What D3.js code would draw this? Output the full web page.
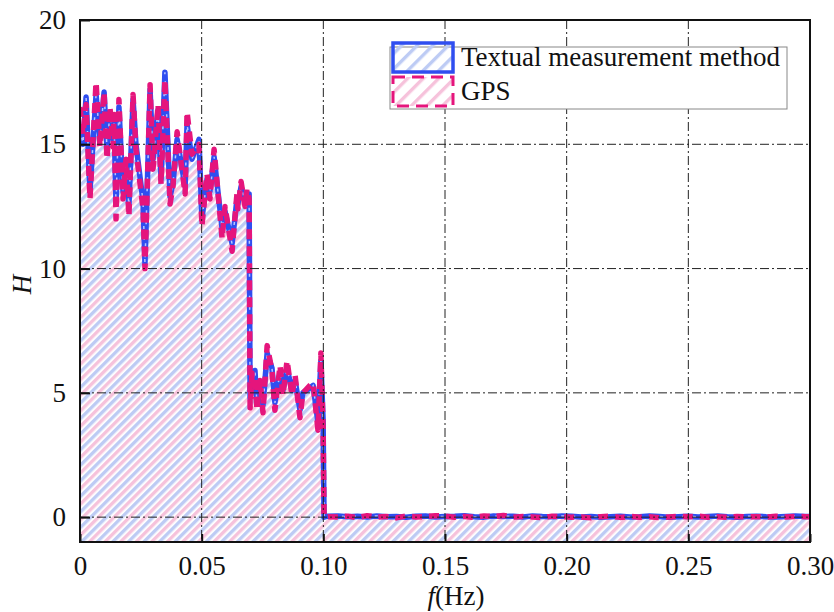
<!DOCTYPE html>
<meta charset="utf-8">
<style>
body { margin: 0; background: #fff; }
text { font-family: "Liberation Serif", "DejaVu Serif", serif; fill: #111; }
.grid line { stroke: #222; stroke-width: 1; stroke-dasharray: 9,3,2,3; }
</style>
<body>
<svg width="834" height="612"></svg>
<script src="https://d3js.org/d3.v7.min.js"></script>
<script>
// frequencies (Hz) below 0.1 and the spectrum values
var freqLow = [0, 0.0012, 0.0025, 0.0041, 0.0066, 0.0082, 0.0099, 0.0111, 0.0123, 0.0136,
  0.0140, 0.0148, 0.0160, 0.0177, 0.0189, 0.0201, 0.0218, 0.0230, 0.0259, 0.0267,
  0.0288, 0.0300, 0.0321, 0.0333, 0.0349, 0.0370, 0.0382, 0.0399, 0.0432, 0.0440,
  0.0460, 0.0489, 0.0501, 0.0522, 0.0534, 0.0551, 0.0584, 0.0596, 0.0625, 0.0645,
  0.0649, 0.0662, 0.0678, 0.0686, 0.0695, 0.0699, 0.0707, 0.0719, 0.0727, 0.0740,
  0.0752, 0.0769, 0.0789, 0.0801, 0.0822, 0.0834, 0.0851, 0.0871, 0.0884, 0.0904,
  0.0916, 0.0945, 0.0958, 0.0978, 0.0990, 0.0999, 0.1003];
var gpsLow = [16.5, 15.4, 16.6, 12.8, 17.5, 14.9, 17.1, 14.4, 16.5, 14.9,
  16.2, 12.0, 16.8, 12.8, 14.4, 12.1, 17.0, 14.8, 12.4, 10.0,
  17.4, 14.0, 16.6, 13.4, 17.6, 12.6, 13.3, 15.5, 13.0, 16.3,
  14.6, 15.0, 11.7, 13.8, 12.8, 14.8, 11.2, 12.5, 10.7, 13.0,
  12.4, 13.5, 12.5, 13.2, 12.8, 4.4, 5.8, 5.6, 4.3, 5.5,
  4.2, 6.9, 5.9, 4.3, 6.1, 4.9, 6.3, 4.9, 5.7, 4.0,
  5.0, 5.3, 5.4, 3.5, 6.6, 3.6, 0.0];
var textLow = [15.7, 15.0, 16.9, 13.1, 17.0, 15.2, 17.1, 14.8, 16.3, 15.2,
  15.9, 12.6, 16.5, 13.1, 14.2, 12.5, 16.8, 15.0, 12.7, 10.2,
  17.2, 14.4, 16.4, 13.6, 17.9, 12.9, 13.4, 15.2, 13.3, 15.8,
  14.4, 15.2, 12.0, 13.6, 13.1, 14.5, 11.6, 12.3, 11.0, 12.8,
  12.6, 13.3, 12.7, 13.0, 13.0, 4.8, 5.4, 5.9, 4.6, 5.2,
  4.5, 6.6, 6.0, 4.6, 5.8, 5.1, 6.0, 5.1, 5.5, 4.3,
  5.0, 5.2, 5.3, 3.8, 6.3, 3.9, 0.0];

// flat tail above 0.1 Hz
var freqHigh = [0.102, 0.106, 0.110, 0.114, 0.118, 0.122, 0.126, 0.130, 0.134, 0.138,
  0.142, 0.146, 0.150, 0.154, 0.158, 0.162, 0.166, 0.170, 0.174, 0.178,
  0.182, 0.186, 0.190, 0.194, 0.198, 0.202, 0.206, 0.210, 0.214, 0.218,
  0.222, 0.226, 0.230, 0.234, 0.238, 0.242, 0.246, 0.250, 0.254, 0.258,
  0.262, 0.266, 0.270, 0.274, 0.278, 0.282, 0.286, 0.290, 0.294, 0.298, 0.300];
var gpsHigh = [0.02, 0.01, 0.04, -0.02, 0.06, 0.00, 0.03, -0.03, 0.05, 0.01,
  0.02, 0.06, 0.04, 0.00, 0.03, -0.01, 0.05, 0.02, 0.07, 0.00,
  0.03, 0.01, -0.02, 0.04, 0.02, 0.00, 0.01, -0.03, 0.02, 0.04,
  -0.01, 0.03, 0.00, 0.02, -0.02, 0.01, 0.03, 0.02, 0.04, 0.00,
  0.02, -0.01, 0.03, 0.01, 0.02, 0.00, 0.04, 0.01, 0.03, 0.02, 0.02];
var textHigh = [0.04, 0.05, 0.02, 0.04, 0.01, 0.05, 0.02, 0.03, 0.00, 0.04,
  0.05, 0.01, 0.03, 0.04, 0.06, 0.02, 0.00, 0.05, 0.03, 0.04,
  0.01, 0.05, 0.03, 0.02, 0.05, 0.04, 0.01, 0.03, 0.00, 0.02,
  0.04, 0.01, 0.02, 0.05, 0.03, 0.00, 0.02, 0.04, 0.01, 0.03,
  0.05, 0.02, 0.00, 0.03, 0.04, 0.02, 0.01, 0.03, 0.05, 0.03, 0.03];

var xTicks = [0, 0.05, 0.10, 0.15, 0.20, 0.25, 0.30];
var xTickLabels = ["0", "0.05", "0.10", "0.15", "0.20", "0.25", "0.30"];
var yTicks = [0, 5, 10, 15, 20];
var seriesNames = ["Textual measurement method", "GPS"];

var svg = d3.select("svg"),
    margin = {top: 20, right: 24, bottom: 70, left: 80},
    width = +svg.attr("width") - margin.left - margin.right,
    height = +svg.attr("height") - margin.top - margin.bottom;

var x = d3.scaleLinear().domain([0, 0.30]).range([0, width]);
var y = d3.scaleLinear().domain([-1, 20]).range([height, 0]);

var blue = "#2f4ef0", pink = "#e5157c";
var fs = 27;

var defs = svg.append("defs");
function stripes(id, color, offset) {
  var p = defs.append("pattern")
      .attr("id", id)
      .attr("patternUnits", "userSpaceOnUse")
      .attr("width", 11).attr("height", 11)
      .attr("patternTransform", "rotate(45) translate(" + offset + ",0)");
  p.append("rect").attr("x", 0).attr("y", 0).attr("width", 3.4).attr("height", 11)
      .attr("fill", color);
}
stripes("hatchPink", "#f6c2db", 0);
stripes("hatchBlue", "#bdcbf4", 5.5);

defs.append("clipPath").attr("id", "clip")
  .append("rect").attr("width", width).attr("height", height);

var g = svg.append("g")
    .attr("transform", "translate(" + margin.left + "," + margin.top + ")");

function toPoints(fq, vs) {
  return fq.map(function(f, i) { return [f, vs[i]]; });
}
var gps = toPoints(freqLow, gpsLow).concat(toPoints(freqHigh, gpsHigh));
var txt = toPoints(freqLow, textLow).concat(toPoints(freqHigh, textHigh));

var area = d3.area()
    .x(function(d) { return x(d[0]); })
    .y0(height)
    .y1(function(d) { return y(d[1]); });
var line = d3.line()
    .x(function(d) { return x(d[0]); })
    .y(function(d) { return y(d[1]); });

var plot = g.append("g").attr("clip-path", "url(#clip)");
plot.append("path").datum(gps).attr("d", area).attr("fill", "url(#hatchPink)");
plot.append("path").datum(txt).attr("d", area).attr("fill", "url(#hatchBlue)");

// grid
var grid = g.append("g").attr("class", "grid");
grid.selectAll(".vx").data(xTicks.slice(1, -1)).enter().append("line")
    .attr("x1", function(d) { return x(d); }).attr("x2", function(d) { return x(d); })
    .attr("y1", 0).attr("y2", height);
grid.selectAll(".hy").data(yTicks.slice(0, -1)).enter().append("line")
    .attr("x1", 0).attr("x2", width)
    .attr("y1", function(d) { return y(d); }).attr("y2", function(d) { return y(d); });

// curves
plot.append("path").datum(txt).attr("d", line)
    .attr("fill", "none").attr("stroke", blue).attr("stroke-width", 5.5)
    .attr("stroke-linejoin", "round");
plot.append("path").datum(txt).attr("d", line)
    .attr("fill", "none").attr("stroke", "#b8c6ff").attr("stroke-width", 1.5)
    .attr("stroke-dasharray", "3,8");
plot.append("path").datum(gps).attr("d", line)
    .attr("fill", "none").attr("stroke", pink).attr("stroke-width", 5.5)
    .attr("stroke-linejoin", "round").attr("stroke-dasharray", "10,7");

// axes
function styleAxis(a) {
  a.attr("font-family", null);
  a.select(".domain").remove();
  a.selectAll("line").attr("stroke", "#111").attr("stroke-width", 2);
  a.selectAll("text").attr("font-size", fs).attr("fill", "#111");
}
g.append("g")
    .attr("transform", "translate(0," + height + ")")
    .call(d3.axisBottom(x).tickValues(xTicks).tickSizeInner(-8).tickSizeOuter(0)
      .tickPadding(14).tickFormat(function(d, i) { return xTickLabels[i]; }))
    .call(styleAxis);
g.append("g")
    .call(d3.axisLeft(y).tickValues(yTicks).tickSizeInner(-10).tickSizeOuter(0)
      .tickPadding(14))
    .call(styleAxis);

g.append("rect").attr("width", width).attr("height", height)
    .attr("fill", "none").attr("stroke", "#111").attr("stroke-width", 2);

// axis titles
svg.append("text")
    .attr("transform", "translate(31," + (margin.top + y(10) + 16) + ") rotate(-90)")
    .attr("text-anchor", "middle").attr("font-size", fs).attr("font-style", "italic")
    .text("H");
var xt = svg.append("text")
    .attr("x", 456).attr("y", 605)
    .attr("text-anchor", "middle").attr("font-size", fs);
xt.append("tspan").attr("font-style", "italic").text("f");
xt.append("tspan").text("(Hz)");

// legend
var lg = svg.append("g").attr("transform", "translate(390,47)");
lg.append("rect").attr("width", 397).attr("height", 62)
    .attr("fill", "#fff").attr("stroke", "#888").attr("stroke-width", 1);
lg.append("rect").attr("x", 3).attr("y", -4).attr("width", 60).attr("height", 29)
    .attr("fill", "url(#hatchBlue)").attr("stroke", blue).attr("stroke-width", 3.5);
lg.append("rect").attr("x", 3).attr("y", 30).attr("width", 60).attr("height", 29)
    .attr("fill", "url(#hatchPink)").attr("stroke", pink).attr("stroke-width", 3)
    .attr("stroke-dasharray", "12,7");
lg.selectAll(".lt").data(seriesNames).enter().append("text")
    .attr("x", 71).attr("y", function(d, i) { return 19 + i * 34; })
    .attr("font-size", fs).text(function(d) { return d; });
</script>
</body>
